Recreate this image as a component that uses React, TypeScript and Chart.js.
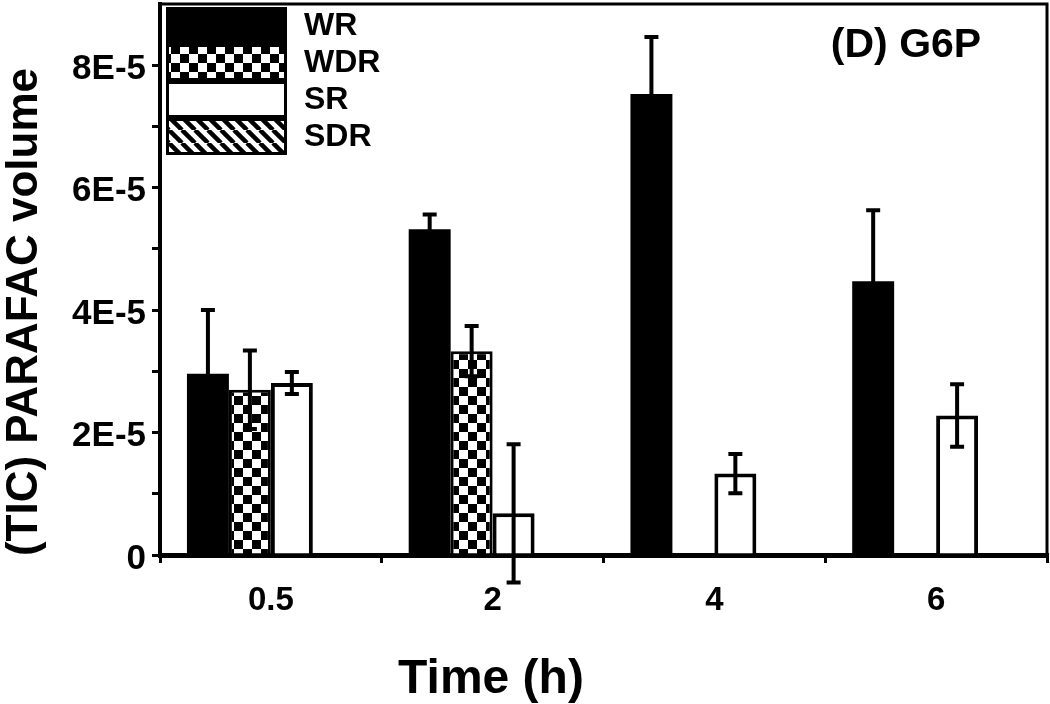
import React, { useEffect, useRef } from 'react';
import { Chart, registerables } from 'chart.js';

Chart.register(...registerables);

// ---- data ----
const categories = ['0.5', '2', '4', '6'];
const seriesLabels = ['WR', 'WDR', 'SR', 'SDR'];
const wrValues = [2.96e-5, 5.32e-5, 7.53e-5, 4.47e-5];
const wrErrors = [1.04e-5, 0.24e-5, 0.93e-5, 1.16e-5];
const wdrValues = [2.70e-5, 3.33e-5, null, null];
const wdrErrors = [0.64e-5, 0.41e-5, null, null];
const srValues = [2.81e-5, 0.68e-5, 1.33e-5, 2.28e-5];
const srErrors = [0.18e-5, 1.13e-5, 0.32e-5, 0.51e-5];
const sdrValues = [null, null, null, null];
const sdrErrors = [null, null, null, null];
const yMajorLabels = ['0', '2E-5', '4E-5', '6E-5', '8E-5'];
const chartTitle = '(D) G6P';
const xTitle = 'Time (h)';
const yTitle = '(TIC) PARAFAC volume';

const FONT = '"Liberation Sans", Arial, Helvetica, sans-serif';

function makeChecker(): CanvasPattern {
  const c = document.createElement('canvas');
  c.width = 18;
  c.height = 18;
  const g = c.getContext('2d')!;
  g.fillStyle = '#fff';
  g.fillRect(0, 0, 18, 18);
  g.fillStyle = '#000';
  g.fillRect(0, 0, 9, 9);
  g.fillRect(9, 9, 9, 9);
  return g.createPattern(c, 'repeat')!;
}

function makeStripes(): CanvasPattern {
  const s = 13;
  const c = document.createElement('canvas');
  c.width = s;
  c.height = s;
  const g = c.getContext('2d')!;
  g.fillStyle = '#fff';
  g.fillRect(0, 0, s, s);
  g.strokeStyle = '#000';
  g.lineWidth = 4.5;
  for (const off of [-s, 0, s]) {
    g.beginPath();
    g.moveTo(off, 0);
    g.lineTo(off + s, s);
    g.stroke();
  }
  return g.createPattern(c, 'repeat')!;
}

const errorBarPlugin = {
  id: 'errorBars',
  afterDatasetsDraw(chart: any) {
    const ctx = chart.ctx;
    const ys = chart.scales.y;
    chart.data.datasets.forEach((ds: any, i: number) => {
      const meta = chart.getDatasetMeta(i);
      const errs = ds.errors || [];
      meta.data.forEach((bar: any, j: number) => {
        const v = ds.data[j];
        const e = errs[j];
        if (v == null || e == null) return;
        const x = bar.x;
        const yTop = ys.getPixelForValue(v + e);
        const yBot = ys.getPixelForValue(v - e);
        ctx.save();
        ctx.strokeStyle = '#000';
        ctx.lineWidth = 4;
        ctx.beginPath();
        ctx.moveTo(x, yTop);
        ctx.lineTo(x, yBot);
        ctx.moveTo(x - 7, yTop);
        ctx.lineTo(x + 7, yTop);
        ctx.moveTo(x - 7, yBot);
        ctx.lineTo(x + 7, yBot);
        ctx.stroke();
        ctx.restore();
      });
    });
  },
};

const decorPlugin = {
  id: 'decor',
  afterDraw(chart: any) {
    const ctx = chart.ctx;
    const a = chart.chartArea;
    ctx.save();
    // top & right frame
    ctx.strokeStyle = '#000';
    ctx.lineWidth = 3;
    ctx.beginPath();
    ctx.moveTo(a.left, a.top);
    ctx.lineTo(a.right, a.top);
    ctx.lineTo(a.right, a.bottom);
    ctx.stroke();

    // legend
    const lx = a.left + 6;
    const lw = 121;
    const rowH = 37;
    const ly = a.top + 3;
    chart.data.datasets.forEach((ds: any, i: number) => {
      const y0 = ly + i * rowH;
      ctx.fillStyle = ds.backgroundColor;
      ctx.fillRect(lx, y0, lw, rowH);
      ctx.strokeStyle = '#000';
      ctx.lineWidth = 3;
      ctx.strokeRect(lx + 1.5, y0 + 1.5, lw - 3, rowH - 3);
      ctx.fillStyle = '#000';
      ctx.font = `bold 32px ${FONT}`;
      ctx.textAlign = 'left';
      ctx.textBaseline = 'middle';
      ctx.fillText(ds.label, lx + lw + 17, y0 + rowH / 2 + 1);
    });

    // chart title
    ctx.fillStyle = '#000';
    ctx.font = `bold 41px ${FONT}`;
    ctx.textAlign = 'center';
    ctx.textBaseline = 'alphabetic';
    ctx.fillText(chartTitle, 906, 57);

    // x title
    ctx.font = `bold 48px ${FONT}`;
    ctx.textBaseline = 'middle';
    ctx.fillText(xTitle, 491, 680);

    // y title
    ctx.translate(25, 312);
    ctx.rotate(-Math.PI / 2);
    ctx.font = `bold 44px ${FONT}`;
    ctx.fillText(yTitle, 0, 0);
    ctx.restore();
  },
};

export default function App() {
  const ref = useRef<HTMLCanvasElement>(null);

  useEffect(() => {
    document.body.style.margin = '0';
    const canvas = ref.current!;
    const checker = makeChecker();
    const stripes = makeStripes();
    const chart = new Chart(canvas, {
      type: 'bar',
      data: {
        labels: categories,
        datasets: [
          { label: seriesLabels[0], data: wrValues, errors: wrErrors, backgroundColor: '#000', borderColor: '#000', borderWidth: 0 } as any,
          { label: seriesLabels[1], data: wdrValues, errors: wdrErrors, backgroundColor: checker, borderColor: '#000', borderWidth: 3 } as any,
          { label: seriesLabels[2], data: srValues, errors: srErrors, backgroundColor: '#fff', borderColor: '#000', borderWidth: 4 } as any,
          { label: seriesLabels[3], data: sdrValues, errors: sdrErrors, backgroundColor: stripes, borderColor: '#000', borderWidth: 3 } as any,
        ],
      },
      options: {
        responsive: false,
        animation: false,
        devicePixelRatio: 1,
        layout: { padding: { top: 4, right: 3, left: 0, bottom: 0 } },
        plugins: {
          legend: { display: false },
          tooltip: { enabled: false },
          title: { display: false },
        },
        datasets: {
          bar: { categoryPercentage: 0.757, barPercentage: 1 },
        },
        scales: {
          x: {
            z: 1,
            offset: true,
            grid: {
              offset: true,
              drawOnChartArea: false,
              drawTicks: true,
              tickLength: 8,
              lineWidth: 3,
              color: '#000',
            },
            border: { display: true, color: '#000', width: 5 },
            ticks: {
              color: '#000',
              font: { family: FONT, size: 33, weight: 'bold' },
              padding: 18,
              maxRotation: 0,
            },
            afterFit(scale: any) {
              scale.height = 149;
              scale.paddingLeft = 0;
              scale.paddingRight = 0;
            },
          },
          y: {
            min: 0,
            max: 9e-5,
            grid: {
              drawOnChartArea: false,
              drawTicks: true,
              tickLength: 8,
              lineWidth: 3,
              color: '#000',
            },
            border: { display: true, color: '#000', width: 4 },
            ticks: {
              stepSize: 1e-5,
              color: '#000',
              font: { family: FONT, size: 35, weight: 'bold' },
              padding: 6,
              labelOffset: 4,
              callback(value: any) {
                const n = Math.round(Number(value) * 1e5);
                if (n % 2 !== 0) return '';
                return yMajorLabels[n / 2] ?? '';
              },
            },
            afterBuildTicks(scale: any) {
              scale.ticks = scale.ticks.filter((t: any) => t.value < 8.5e-5);
            },
            afterFit(scale: any) {
              scale.width = 160;
              scale.paddingTop = 0;
              scale.paddingBottom = 0;
            },
          },
        },
      } as any,
      plugins: [errorBarPlugin, decorPlugin],
    });
    return () => chart.destroy();
  }, []);

  return (
    <div style={{ position: 'absolute', left: 0, top: 0, width: 1050, height: 704, background: '#fff' }}>
      <canvas ref={ref} width={1050} height={704} />
    </div>
  );
}
